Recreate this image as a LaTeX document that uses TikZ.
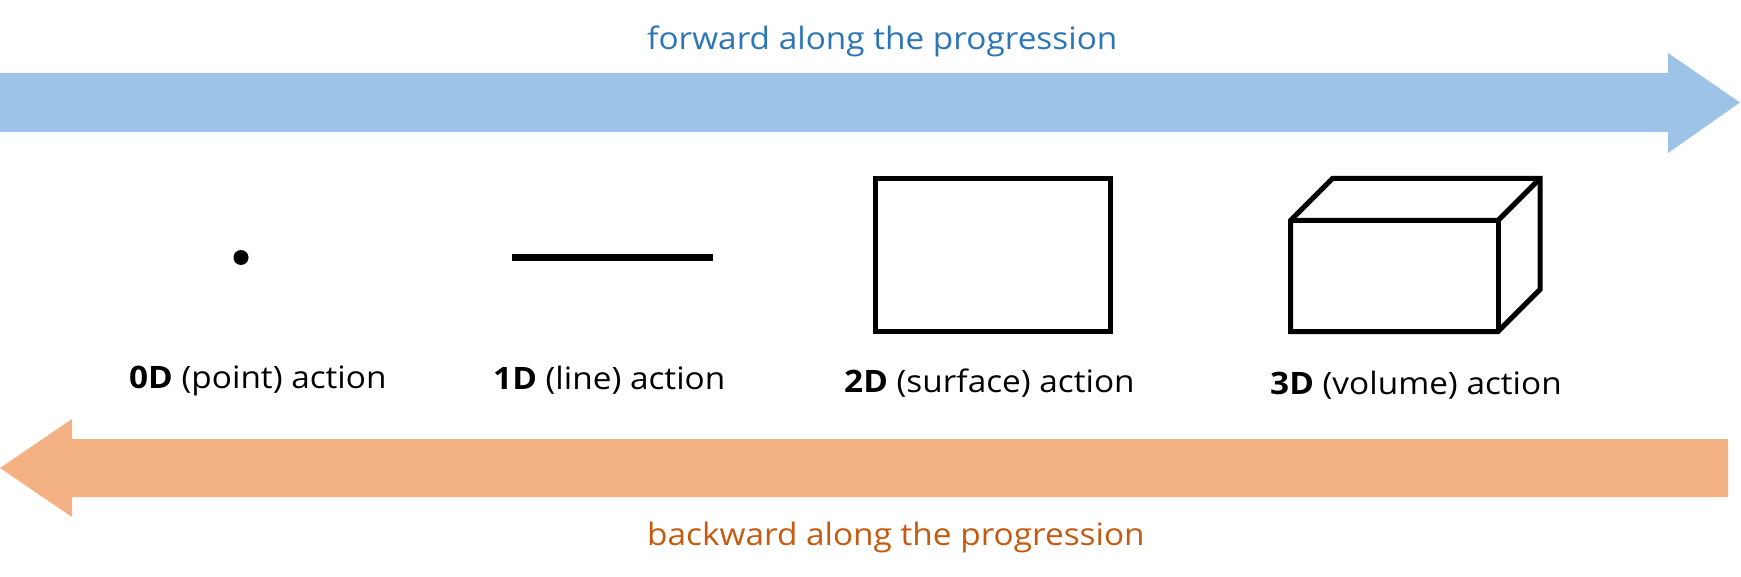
\documentclass[tikz,border=0pt]{standalone}
\usepackage{fontspec}
\setmainfont{Open Sans}[FakeStretch=1.08]
\definecolor{fwdfill}{HTML}{9DC3E6}
\definecolor{bwdfill}{HTML}{F4B183}
\definecolor{fwdtext}{HTML}{2E75B6}
\definecolor{bwdtext}{HTML}{C55A11}
\tikzset{
  lbl/.style={anchor=base west, inner sep=0pt, font=\fontsize{31}{36}\selectfont},
  shapeline/.style={draw=black, line width=5bp, line join=miter},
}
\begin{document}
\begin{tikzpicture}[x=1bp, y=-1bp]
\useasboundingbox (0,0) rectangle (1741,577);
% forward arrow
\fill[fwdfill] (0,73) -- (1668,73) -- (1668,53) -- (1740,102.5) -- (1668,153) -- (1668,132) -- (0,132) -- cycle;
% backward arrow
\fill[bwdfill] (1728,439) -- (72,439) -- (72,419) -- (0,468) -- (72,517) -- (72,497) -- (1728,497) -- cycle;
% texts
\node[lbl, text=fwdtext] (fwd) at (647,50) {forward along the progression};
\node[lbl, text=bwdtext] (bwd) at (647,545) {backward along the progression};
\node[lbl] (l0) at (129,388) {\textbf{0D} (point) action};
\node[lbl] (l1) at (493,389) {\textbf{1D} (line) action};
\node[lbl] (l2) at (844,392) {\textbf{2D} (surface) action};
\node[lbl] (l3) at (1270,394) {\textbf{3D} (volume) action};
% 0D point
\fill[black] (241,257.5) circle (7.5);
% 1D line
\draw[black, line width=7bp] (512,257.5) -- (713,257.5);
% 2D rectangle
\draw[shapeline] (875.5,178.5) rectangle (1110.5,331.5);
% 3D box
\draw[shapeline] (1290.5,331.5) -- (1290.5,220.5) -- (1332.5,178.5) -- (1540,178.5) -- (1540,289.5) -- (1498,331.5) -- cycle;
\draw[shapeline] (1290.5,220.5) -- (1498,220.5) -- (1540,178.5);
\draw[shapeline] (1498,220.5) -- (1498,331.5);
\end{tikzpicture}
\end{document}
